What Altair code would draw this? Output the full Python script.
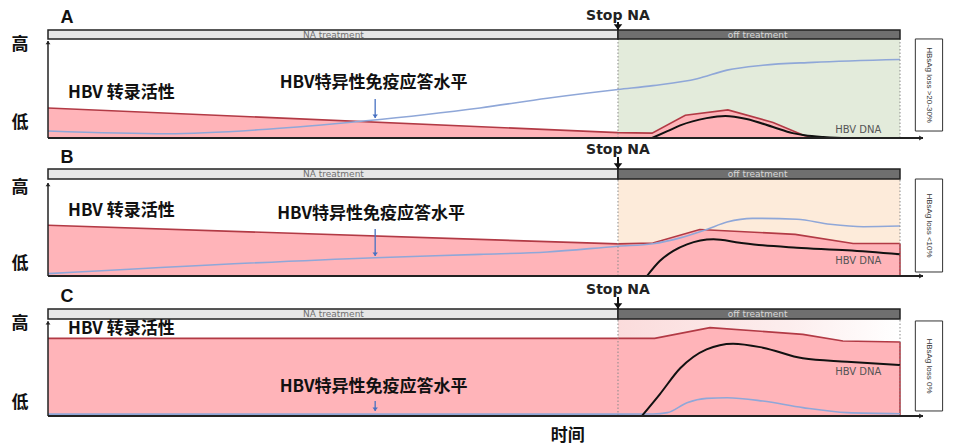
import altair as alt
import pandas as pd

# ---------------- data (time 0..100, level 0..1) ----------------
STOP_T = 66.9
END_T = 100.0

# Panel A
trans_t_A = [0, 66.9, 70.9, 74.8, 79.8, 85.1, 88.6, 89.8, 100]
trans_v_A = [0.31, 0.055, 0.05, 0.234, 0.29, 0.16, 0.03, 0.0, 0.0]
dna_t_A = [70.9, 72.7, 74.2, 77.3, 79.5, 82.0, 85.1, 87.4, 88.8, 91.0, 93.8, 100]
dna_v_A = [0.0, 0.07, 0.13, 0.205, 0.227, 0.196, 0.113, 0.05, 0.028, 0.01, 0.0, 0.0]
imm_t_A = [0, 14, 25.7, 37.0, 50.7, 58.6, 66.9, 71.0, 76.2, 79.7, 83.9, 89.8, 100]
imm_v_A = [0.072, 0.044, 0.09, 0.175, 0.31, 0.41, 0.5, 0.54, 0.61, 0.70, 0.75, 0.78, 0.81]

# Panel B
trans_t_B = [0, 66.9, 71.0, 76.5, 87.7, 94.5, 100]
trans_v_B = [0.545, 0.345, 0.355, 0.50, 0.448, 0.35, 0.35]
dna_t_B = [70.3, 71.8, 73.4, 75.0, 78.1, 81.2, 83.9, 87.9, 93.8, 100]
dna_v_B = [0.0, 0.161, 0.27, 0.34, 0.395, 0.358, 0.33, 0.305, 0.276, 0.233]
imm_t_B = [0, 38.4, 50.7, 58.6, 66.9, 71.0, 74.2, 77.3, 79.7, 82.7, 87.9, 91.8, 95.7, 100]
imm_v_B = [0.025, 0.197, 0.233, 0.258, 0.32, 0.347, 0.41, 0.50, 0.58, 0.62, 0.61, 0.556, 0.53, 0.537]

# Panel C
trans_t_C = [0, 66.9, 71.2, 77.7, 88.6, 93.3, 100]
trans_v_C = [0.835, 0.835, 0.835, 0.95, 0.878, 0.806, 0.796]
dna_t_C = [69.7, 71.8, 74.2, 77.3, 80.4, 83.9, 88.6, 93.8, 100]
dna_v_C = [0.0, 0.233, 0.513, 0.717, 0.778, 0.735, 0.62, 0.584, 0.548]
imm_t_C = [0, 66.9, 71.0, 72.7, 75.0, 77.3, 79.7, 83.9, 88.6, 93.8, 100]
imm_v_C = [0.02, 0.02, 0.022, 0.036, 0.143, 0.19, 0.197, 0.161, 0.09, 0.036, 0.025]

panel_labels = ["A", "B", "C"]
loss_labels = ["HBsAg loss >20-30%", "HBsAg loss <10%", "HBsAg loss 0%"]
trans_label = "HBV 转录活性"
imm_label = "HBV特异性免疫应答水平"
dna_label = "HBV DNA"
high_label, low_label = "高", "低"
time_label = "时间"
stop_label = "Stop NA"
on_label, off_label = "NA treatment", "off treatment"

# ---------------- layout (styling, not data) ----------------
XLO, XHI = -4.695, 106.103
W = 944

panels = [
    dict(key="A", trans=(trans_t_A, trans_v_A), dna=(dna_t_A, dna_v_A), imm=(imm_t_A, imm_v_A),
         h=140, ydom=(-0.1134, 1.3299), bar=(1.021, 1.113), axis_top=1.0,
         letter_y=1.237, stop_y=1.258, stop_shaft=(1.196, 1.115),
         high_y=0.959, low_y=0.155, trans_y=0.464, imm_y=0.567, imm_x=27.2,
         imm_arrow=(0.402, 0.206), dna_y=0.082, box=(0.072, 1.021), box_y=0.546,
         bg="#E3EBDB", close_edge=False),
    dict(key="B", trans=(trans_t_B, trans_v_B), dna=(dna_t_B, dna_v_B), imm=(imm_t_B, imm_v_B),
         h=140, ydom=(-0.1398, 1.3656), bar=(1.043, 1.151), axis_top=1.0,
         letter_y=1.269, stop_y=1.355, stop_shaft=(1.28, 1.152),
         high_y=0.946, low_y=0.129, trans_y=0.699, imm_y=0.667, imm_x=26.9,
         imm_arrow=(0.505, 0.215), dna_y=0.161, box=(0.043, 1.043), box_y=0.543,
         bg="#FDEBDA", close_edge=True),
    dict(key="C", trans=(trans_t_C, trans_v_C), dna=(dna_t_C, dna_v_C), imm=(imm_t_C, imm_v_C),
         h=158, ydom=(-0.3333, 1.3656), bar=(1.043, 1.151), axis_top=1.02,
         letter_y=1.28, stop_y=1.355, stop_shaft=(1.28, 1.152),
         high_y=0.989, low_y=0.14, trans_y=0.935, imm_y=0.312, imm_x=27.2,
         imm_arrow=(0.161, 0.054), dna_y=0.473, box=(0.054, 1.022), box_y=0.538,
         bg=None, close_edge=True),
]

CJK = "Noto Sans CJK SC"
RED_FILL = "#FFB4B9"
RED_LINE = "#B23A45"
BLUE = "#8FA7D8"
BLUE_ARROW = "#4771C2"
DARK = "#222222"

ARROW_DOWN = "M-0.9,-1.2L0.9,-1.2L0,0Z"
ARROW_UP = "M-0.9,1.2L0.9,1.2L0,0Z"
ARROW_RIGHT = "M-1.2,-0.8L-1.2,0.8L0,0Z"


def build_panel(i, p):
    xs = alt.Scale(domain=[XLO, XHI], nice=False, zero=False)
    ys = alt.Scale(domain=list(p["ydom"]), nice=False, zero=False)

    def X(f):
        return alt.X(f, type="quantitative", scale=xs, axis=None)

    def Y(f):
        return alt.Y(f, type="quantitative", scale=ys, axis=None)

    def X2(f):
        return alt.X2(f)

    def Y2(f):
        return alt.Y2(f)

    layers = []
    b0, b1 = p["bar"]

    # background of off-treatment period
    bg_df = pd.DataFrame({"t0": [STOP_T], "t1": [END_T], "v0": [0.0], "v1": [b0]})
    if p["bg"]:
        bg_mark = alt.Chart(bg_df).mark_rect(color=p["bg"])
    else:
        bg_mark = alt.Chart(bg_df).mark_rect(
            color=alt.Gradient(
                gradient="linear",
                stops=[alt.GradientStop(color="#FBDCDC", offset=0),
                       alt.GradientStop(color="#FCEDED", offset=0.6),
                       alt.GradientStop(color="#FFFFFF", offset=1)],
                x1=0, x2=1, y1=0, y2=0))
    layers.append(bg_mark.encode(x=X("t0"), x2=X2("t1"), y=Y("v0"), y2=Y2("v1")))

    # transcription area
    tt, tv = p["trans"]
    tr_df = pd.DataFrame({"t": tt, "v": tv})
    layers.append(alt.Chart(tr_df).mark_area(color=RED_FILL, opacity=1).encode(
        x=X("t"), y=Y("v"), y2=alt.datum(0)))
    layers.append(alt.Chart(tr_df).mark_line(color=RED_LINE, strokeWidth=1.6).encode(
        x=X("t"), y=Y("v")))
    if p["close_edge"]:
        edge_df = pd.DataFrame({"t": [tt[-1]], "v": [tv[-1]]})
        layers.append(alt.Chart(edge_df).mark_rule(color=RED_LINE, strokeWidth=1.6).encode(
            x=X("t"), y=Y("v"), y2=alt.datum(0)))

    # immune response (blue)
    it, iv = p["imm"]
    layers.append(alt.Chart(pd.DataFrame({"t": it, "v": iv})).mark_line(
        color=BLUE, strokeWidth=1.6, interpolate="monotone").encode(x=X("t"), y=Y("v")))

    # HBV DNA (black)
    dt, dv = p["dna"]
    layers.append(alt.Chart(pd.DataFrame({"t": dt, "v": dv})).mark_line(
        color="#111111", strokeWidth=2, interpolate="monotone").encode(x=X("t"), y=Y("v")))

    # dotted period boundaries
    dot_df = pd.DataFrame({"t": [STOP_T, END_T], "v0": [0.0, 0.0], "v1": [b0, b0]})
    layers.append(alt.Chart(dot_df).mark_rule(color="#8a8a8a", strokeWidth=1, strokeDash=[1.5, 2]).encode(
        x=X("t"), y=Y("v0"), y2=Y2("v1")))

    # axes with arrows
    ax_df = pd.DataFrame({"t0": [0.0], "t1": [102.7], "v0": [0.0], "v1": [p["axis_top"]]})
    layers.append(alt.Chart(ax_df).mark_rule(color=DARK, strokeWidth=2).encode(
        x=X("t0"), x2=X2("t1"), y=Y("v0")))
    layers.append(alt.Chart(ax_df).mark_rule(color=DARK, strokeWidth=1.5).encode(
        x=X("t0"), y=Y("v0"), y2=Y2("v1")))
    layers.append(alt.Chart(ax_df).mark_point(shape=ARROW_UP, filled=True, color=DARK, size=30, opacity=1).encode(
        x=X("t0"), y=Y("v1")))
    layers.append(alt.Chart(ax_df).mark_point(shape=ARROW_RIGHT, filled=True, color=DARK, size=40, opacity=1).encode(
        x=X("t1"), y=Y("v0")))

    # treatment bar
    bar_df = pd.DataFrame({"t0": [0.0, STOP_T], "t1": [STOP_T, END_T], "v0": [b0, b0], "v1": [b1, b1],
                           "fill": ["#E6E6E6", "#6F6F6F"]})
    layers.append(alt.Chart(bar_df).mark_rect(stroke=DARK, strokeWidth=1.5).encode(
        x=X("t0"), x2=X2("t1"), y=Y("v0"), y2=Y2("v1"), color=alt.Color("fill:N", scale=None)))
    bmid = (b0 + b1) / 2
    layers.append(alt.Chart(pd.DataFrame({"t": [33.5], "v": [bmid], "s": [on_label]})).mark_text(
        font="DejaVu Sans", fontSize=9, color="#707070", baseline="middle").encode(x=X("t"), y=Y("v"), text="s:N"))
    layers.append(alt.Chart(pd.DataFrame({"t": [83.3], "v": [bmid], "s": [off_label]})).mark_text(
        font="DejaVu Sans", fontSize=9, color="#D8D8D8", baseline="middle").encode(x=X("t"), y=Y("v"), text="s:N"))

    # Stop NA marker
    s0, s1 = p["stop_shaft"]
    stop_df = pd.DataFrame({"t": [STOP_T], "v": [p["stop_y"]], "s0": [s0], "s1": [s1], "s": [stop_label]})
    layers.append(alt.Chart(stop_df).mark_text(
        font="DejaVu Sans", fontWeight="bold", fontSize=14, color=DARK, baseline="middle").encode(
        x=X("t"), y=Y("v"), text="s:N"))
    layers.append(alt.Chart(stop_df).mark_rule(color="#111111", strokeWidth=2).encode(
        x=X("t"), y=Y("s0"), y2=Y2("s1")))
    layers.append(alt.Chart(stop_df).mark_point(shape=ARROW_DOWN, filled=True, color="#111111", size=90, opacity=1).encode(
        x=X("t"), y=Y("s1")))

    # panel letter
    layers.append(alt.Chart(pd.DataFrame({"t": [2.23], "v": [p["letter_y"]], "s": [panel_labels[i]]})).mark_text(
        font="Liberation Sans", fontWeight="bold", fontSize=18, color="#111111", baseline="middle").encode(
        x=X("t"), y=Y("v"), text="s:N"))

    # high / low
    hl_df = pd.DataFrame({"t": [-3.29, -3.29], "v": [p["high_y"], p["low_y"]], "s": [high_label, low_label]})
    layers.append(alt.Chart(hl_df).mark_text(
        font=CJK, fontWeight="bold", fontSize=17, color="#111111", baseline="middle").encode(
        x=X("t"), y=Y("v"), text="s:N"))

    # series labels
    layers.append(alt.Chart(pd.DataFrame({"t": [2.35], "v": [p["trans_y"]], "s": [trans_label]})).mark_text(
        font=CJK, fontWeight="bold", fontSize=17, color="#111111", align="left", baseline="middle").encode(
        x=X("t"), y=Y("v"), text="s:N"))
    layers.append(alt.Chart(pd.DataFrame({"t": [p["imm_x"]], "v": [p["imm_y"]], "s": [imm_label]})).mark_text(
        font=CJK, fontWeight="bold", fontSize=17, color="#111111", align="left", baseline="middle").encode(
        x=X("t"), y=Y("v"), text="s:N"))
    a0, a1 = p["imm_arrow"]
    ia_df = pd.DataFrame({"t": [38.4], "a0": [a0], "a1": [a1]})
    layers.append(alt.Chart(ia_df).mark_rule(color=BLUE_ARROW, strokeWidth=1.3).encode(
        x=X("t"), y=Y("a0"), y2=Y2("a1")))
    layers.append(alt.Chart(ia_df).mark_point(shape=ARROW_DOWN, filled=True, color=BLUE_ARROW, size=36, opacity=1).encode(
        x=X("t"), y=Y("a1")))
    layers.append(alt.Chart(pd.DataFrame({"t": [95.1], "v": [p["dna_y"]], "s": [dna_label]})).mark_text(
        font="DejaVu Sans", fontSize=10, color="#555555", baseline="middle").encode(
        x=X("t"), y=Y("v"), text="s:N"))

    # outcome box
    bx0, bx1 = p["box"]
    box_df = pd.DataFrame({"t0": [101.8], "t1": [105.0], "v0": [bx0], "v1": [bx1],
                           "tm": [103.4], "vm": [p["box_y"]], "s": [loss_labels[i]]})
    layers.append(alt.Chart(box_df).mark_rect(fill="white", stroke="#333333", strokeWidth=1).encode(
        x=X("t0"), x2=X2("t1"), y=Y("v0"), y2=Y2("v1")))
    layers.append(alt.Chart(box_df).mark_text(
        font="Liberation Sans", fontSize=8, color="#333333", angle=90, baseline="middle").encode(
        x=X("tm"), y=Y("vm"), text="s:N"))

    if p["key"] == "C":
        layers.append(alt.Chart(pd.DataFrame({"t": [61.0], "v": [-0.215], "s": [time_label]})).mark_text(
            font=CJK, fontWeight="bold", fontSize=17, color="#111111", baseline="middle").encode(
            x=X("t"), y=Y("v"), text="s:N"))

    return alt.layer(*layers).properties(width=W, height=p["h"])


chart = alt.vconcat(*[build_panel(i, p) for i, p in enumerate(panels)], spacing=0, bounds="flush").properties(
    padding=0).configure_view(stroke=None)

chart.save("out.html", embed_options={"renderer": "svg", "actions": False})
